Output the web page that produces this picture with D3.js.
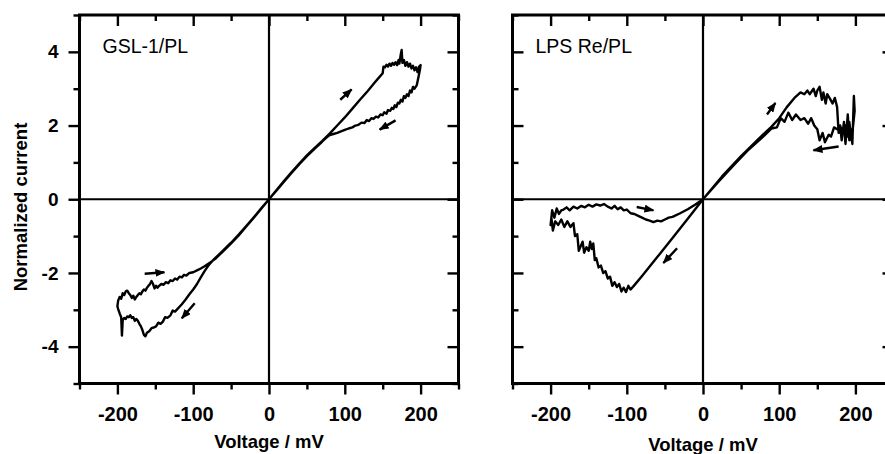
<!DOCTYPE html>
<html><head><meta charset="utf-8">
<script src="https://cdn.jsdelivr.net/npm/d3@7"></script>
<style>body{margin:0;background:#fff}svg{display:block}</style>
</head><body><svg id="c" width="885" height="454"></svg>
<script>
// ---- tick values ----
const xMajor = [-200, -100, 0, 100, 200];
const xMinor = [-250, -150, -50, 50, 150, 250];
const yMajor = [-4, -2, 0, 2, 4];
const yMinor = [-5, -3, -1, 1, 3, 5];
const panelLabels = ["GSL-1/PL", "LPS Re/PL"];
const xTitle = "Voltage / mV";
const yTitle = "Normalized current";

// ---- GSL-1/PL trace (voltage mV, normalized current) ----
const gslVoltage = [
  0,-10,-20,-30,-40,-50,-60,-70,-75,-80,-85,-90,-95,-100,-105,-110,-115,-120,-124,-127,-130,-134,-137,-140,-143,-146,-149,-152,-155,-158,-161,-163,-165,-167,-169,-171,-173,-175,-177,-179,-181,-183,-185,-187,-189,-191,-193,-194,-195,-197,-199,-200,
  -199,-197,-195,-193,-191,-189,-187,-185,-183,-181,-179,-177,-175,-173,-171,-169,-167,-165,-163,-161,-159,-157,-155,-153,-151,-149,-147,-145,-142,-139,-136,-133,-130,-127,-124,-121,-118,-115,-112,-109,-105,-100,-95,-90,-85,-80,-75,-70,-60,-50,-40,-30,-20,-10,0,
  10,20,30,40,50,60,70,80,90,100,110,120,130,140,145,150,151,153,155,157,159,161,163,165,167,169,171,172,174,175,176,178,180,182,184,186,188,190,192,194,196,198,200,
  199,197,195,192,190,188,186,184,182,180,178,176,174,172,170,168,166,164,162,160,157,155,152,150,147,144,141,138,135,132,129,126,122,118,114,110,105,100,95,90,85,80,75,70,60,50,40,30,20,10,0
];
const gslCurrent = [
  0,-0.24,-0.49,-0.73,-0.96,-1.18,-1.38,-1.58,-1.68,-1.8,-1.95,-2.12,-2.3,-2.45,-2.58,-2.72,-2.85,-2.96,-3.05,-3.02,-3.15,-3.22,-3.2,-3.32,-3.38,-3.35,-3.45,-3.48,-3.5,-3.58,-3.62,-3.72,-3.68,-3.55,-3.45,-3.38,-3.3,-3.25,-3.3,-3.2,-3.22,-3.15,-3.2,-3.18,-3.25,-3.22,-3.28,-3.7,-3.2,-3.1,-2.98,-2.9,
  -2.75,-2.65,-2.7,-2.55,-2.6,-2.5,-2.48,-2.55,-2.6,-2.68,-2.62,-2.72,-2.65,-2.6,-2.55,-2.58,-2.5,-2.45,-2.48,-2.4,-2.35,-2.3,-2.22,-2.3,-2.42,-2.35,-2.4,-2.35,-2.3,-2.32,-2.25,-2.28,-2.2,-2.22,-2.15,-2.18,-2.1,-2.12,-2.05,-2.07,-2.0,-1.98,-1.93,-1.88,-1.82,-1.75,-1.68,-1.6,-1.4,-1.2,-0.98,-0.74,-0.5,-0.25,0,
  0.25,0.5,0.74,0.97,1.19,1.39,1.58,1.78,2.0,2.22,2.46,2.7,2.93,3.18,3.3,3.42,3.6,3.58,3.65,3.6,3.68,3.62,3.7,3.65,3.72,3.64,3.78,3.68,3.95,4.05,3.7,3.78,3.62,3.72,3.6,3.68,3.55,3.62,3.5,3.58,3.45,3.6,3.64,
  3.5,3.3,3.1,3.0,3.05,2.9,2.95,2.8,2.85,2.75,2.8,2.65,2.7,2.6,2.62,2.5,2.55,2.45,2.48,2.4,2.42,2.32,2.36,2.28,2.3,2.22,2.24,2.18,2.2,2.12,2.15,2.07,2.08,2.02,2.0,1.95,1.92,1.88,1.84,1.8,1.77,1.74,1.66,1.56,1.37,1.17,0.95,0.72,0.48,0.24,0
];

// ---- LPS Re/PL trace ----
const lpsVoltage = [
  0,-20,-40,-60,-80,-90,-95,-98,-101,-104,-107,-110,-113,-116,-119,-122,-125,-128,-131,-134,-137,-140,-142,-144,-146,-148,-150,-153,-156,-158,-161,-163,-165,-168,-170,-174,-178,-182,-186,-190,-194,-197,-199,-200,
  -198,-195,-192,-189,-186,-183,-179,-175,-170,-165,-160,-155,-150,-145,-140,-135,-130,-125,-120,-116,-112,-108,-104,-100,-95,-90,-85,-80,-75,-70,-65,-60,-55,-50,-45,-40,-30,-20,-10,0,
  25,50,75,90,100,110,120,128,133,137,140,145,148,150,153,156,158,161,163,166,170,173,176,178,180,182,185,187,190,192,194,196,198,199,
  197,195,192,190,187,183,180,176,172,168,165,160,157,153,150,146,142,138,133,128,122,117,112,107,102,97,90,80,60,40,20,0
];
const lpsCurrent = [
  0,-0.53,-1.05,-1.57,-2.08,-2.33,-2.45,-2.35,-2.52,-2.4,-2.5,-2.3,-2.38,-2.25,-2.35,-2.1,-2.15,-1.95,-2.0,-1.8,-1.85,-1.6,-1.65,-1.2,-1.35,-1.15,-1.4,-1.3,-1.45,-1.15,-1.3,-1.4,-0.95,-1.0,-0.65,-0.75,-0.6,-0.75,-0.55,-0.7,-0.6,-0.85,-0.5,-0.7,
  -0.3,-0.5,-0.25,-0.4,-0.3,-0.28,-0.22,-0.3,-0.2,-0.25,-0.18,-0.22,-0.15,-0.2,-0.14,-0.17,-0.13,-0.2,-0.25,-0.18,-0.27,-0.22,-0.3,-0.28,-0.38,-0.4,-0.45,-0.5,-0.55,-0.58,-0.62,-0.58,-0.6,-0.55,-0.5,-0.48,-0.38,-0.27,-0.14,0,
  0.62,1.17,1.68,1.97,2.2,2.5,2.75,2.9,2.85,2.95,2.85,3.0,2.8,2.95,3.05,2.7,2.9,2.6,2.85,2.75,2.6,2.75,2.5,1.8,2.0,1.6,2.1,1.5,2.3,1.6,1.9,1.5,2.8,2.4,
  2.0,1.6,2.1,1.7,2.0,1.8,2.0,1.9,1.95,1.7,1.75,1.55,1.8,1.6,1.9,2.0,2.2,2.05,2.2,2.15,2.3,2.15,2.35,2.1,2.2,1.95,1.92,1.72,1.35,0.92,0.47,0
];

// ---- direction arrows: tail -> head (mV, current) ----
const gslArrowTailV = [94, 167, -164, -98];
const gslArrowTailI = [2.70, 2.14, -2.02, -2.82];
const gslArrowHeadV = [109, 146, -138, -115];
const gslArrowHeadI = [2.98, 1.89, -1.98, -3.23];
const lpsArrowTailV = [84, 178, -87, -34];
const lpsArrowTailI = [2.30, 1.43, -0.21, -1.33];
const lpsArrowHeadV = [95, 145, -65, -52];
const lpsArrowHeadI = [2.61, 1.33, -0.30, -1.73];

const FONT = "Arial, 'Liberation Sans', Helvetica, sans-serif";
const svg = d3.select("#c");

svg.append("defs").append("marker")
  .attr("id", "ah").attr("markerUnits", "userSpaceOnUse")
  .attr("markerWidth", 10).attr("markerHeight", 8)
  .attr("refX", 9).attr("refY", 4).attr("orient", "auto")
  .append("path").attr("d", "M0,0 L10,4 L0,8 Z").attr("fill", "#000");

const panels = [
  {x0: 79.5, x1: 458.5, label: panelLabels[0], V: gslVoltage, I: gslCurrent,
   tv: gslArrowTailV, ti: gslArrowTailI, hv: gslArrowHeadV, hi: gslArrowHeadI, yLabels: true, titleY: 448},
  {x0: 512.5, x1: 893.5, label: panelLabels[1], V: lpsVoltage, I: lpsCurrent,
   tv: lpsArrowTailV, ti: lpsArrowTailI, hv: lpsArrowHeadV, hi: lpsArrowHeadI, yLabels: false, titleY: 451}
];
const yTop = 15, yBot = 383.5;
const MAJ = 11, MIN = 6;
const fmt = d => String(d);

panels.forEach(p => {
  const x = d3.scaleLinear().domain([-250, 250]).range([p.x0, p.x1]);
  const y = d3.scaleLinear().domain([-5, 5]).range([yBot, yTop]);
  const g = svg.append("g");

  // zero lines
  g.append("line").attr("x1", x(0)).attr("x2", x(0)).attr("y1", yTop).attr("y2", yBot)
    .attr("stroke", "#000").attr("stroke-width", 2.2);
  g.append("line").attr("x1", p.x0).attr("x2", p.x1).attr("y1", y(0)).attr("y2", y(0))
    .attr("stroke", "#000").attr("stroke-width", 2.2);

  function ax(gen, tr, vals, size, labels, fs) {
    const a = gen.tickValues(vals).tickSize(size).tickSizeOuter(0).tickPadding(8)
      .tickFormat(labels ? fmt : () => "");
    const sel = g.append("g").attr("transform", tr).call(a);
    sel.select(".domain").remove();
    sel.selectAll(".tick line").attr("stroke", "#000").attr("stroke-width", 2.4);
    sel.selectAll("text").attr("font-family", FONT).attr("font-weight", "bold")
      .attr("font-size", fs).attr("fill", "#000");
    return sel;
  }
  // bottom (outward)
  const bMaj = ax(d3.axisBottom(x), `translate(0,${yBot})`, xMajor, MAJ, true, 20);
  bMaj.selectAll("text").attr("dy", null).attr("y", 37);
  ax(d3.axisBottom(x), `translate(0,${yBot})`, xMinor, MIN, false, 20);
  // top (inward)
  ax(d3.axisTop(x), `translate(0,${yTop})`, xMajor, -MAJ, false, 20);
  ax(d3.axisTop(x), `translate(0,${yTop})`, xMinor, -MIN, false, 20);
  // left
  if (p.yLabels) {
    const l = ax(d3.axisLeft(y), `translate(${p.x0},0)`, yMajor, MAJ, true, 19);
    l.selectAll("text").attr("x", -21);
    ax(d3.axisLeft(y), `translate(${p.x0},0)`, yMinor, MIN, false, 19);
  } else {
    ax(d3.axisLeft(y), `translate(${p.x0},0)`, yMajor, -MAJ, false, 19);
    ax(d3.axisLeft(y), `translate(${p.x0},0)`, yMinor, -MIN, false, 19);
  }
  // right (inward)
  ax(d3.axisRight(y), `translate(${p.x1},0)`, yMajor, -MAJ, false, 19);
  ax(d3.axisRight(y), `translate(${p.x1},0)`, yMinor, -MIN, false, 19);

  // frame
  g.append("rect").attr("x", p.x0).attr("y", yTop).attr("width", p.x1 - p.x0).attr("height", yBot - yTop)
    .attr("fill", "none").attr("stroke", "#000").attr("stroke-width", 3);

  // data trace
  const line = d3.line().x(i => x(p.V[i])).y(i => y(p.I[i]));
  g.append("path").attr("d", line(d3.range(p.V.length)))
    .attr("fill", "none").attr("stroke", "#000").attr("stroke-width", 2.4)
    .attr("stroke-linejoin", "round");

  // arrows
  p.tv.forEach((v, k) => {
    g.append("line").attr("x1", x(v)).attr("y1", y(p.ti[k]))
      .attr("x2", x(p.hv[k])).attr("y2", y(p.hi[k]))
      .attr("stroke", "#000").attr("stroke-width", 2.4).attr("marker-end", "url(#ah)");
  });

  // panel label
  g.append("text").attr("x", p.x0 + 23).attr("y", 53).text(p.label)
    .attr("font-family", FONT).attr("font-size", 19.5).attr("fill", "#000");

  // x title
  g.append("text").attr("x", x(0)).attr("y", p.titleY).attr("text-anchor", "middle").text(xTitle)
    .attr("font-family", FONT).attr("font-weight", "bold").attr("font-size", 18.5).attr("fill", "#000");
});

// y title
svg.append("text").attr("transform", "translate(27,207) rotate(-90)").attr("text-anchor", "middle")
  .text(yTitle).attr("font-family", FONT).attr("font-weight", "bold").attr("font-size", 18.5).attr("fill", "#000");
</script></body></html>
